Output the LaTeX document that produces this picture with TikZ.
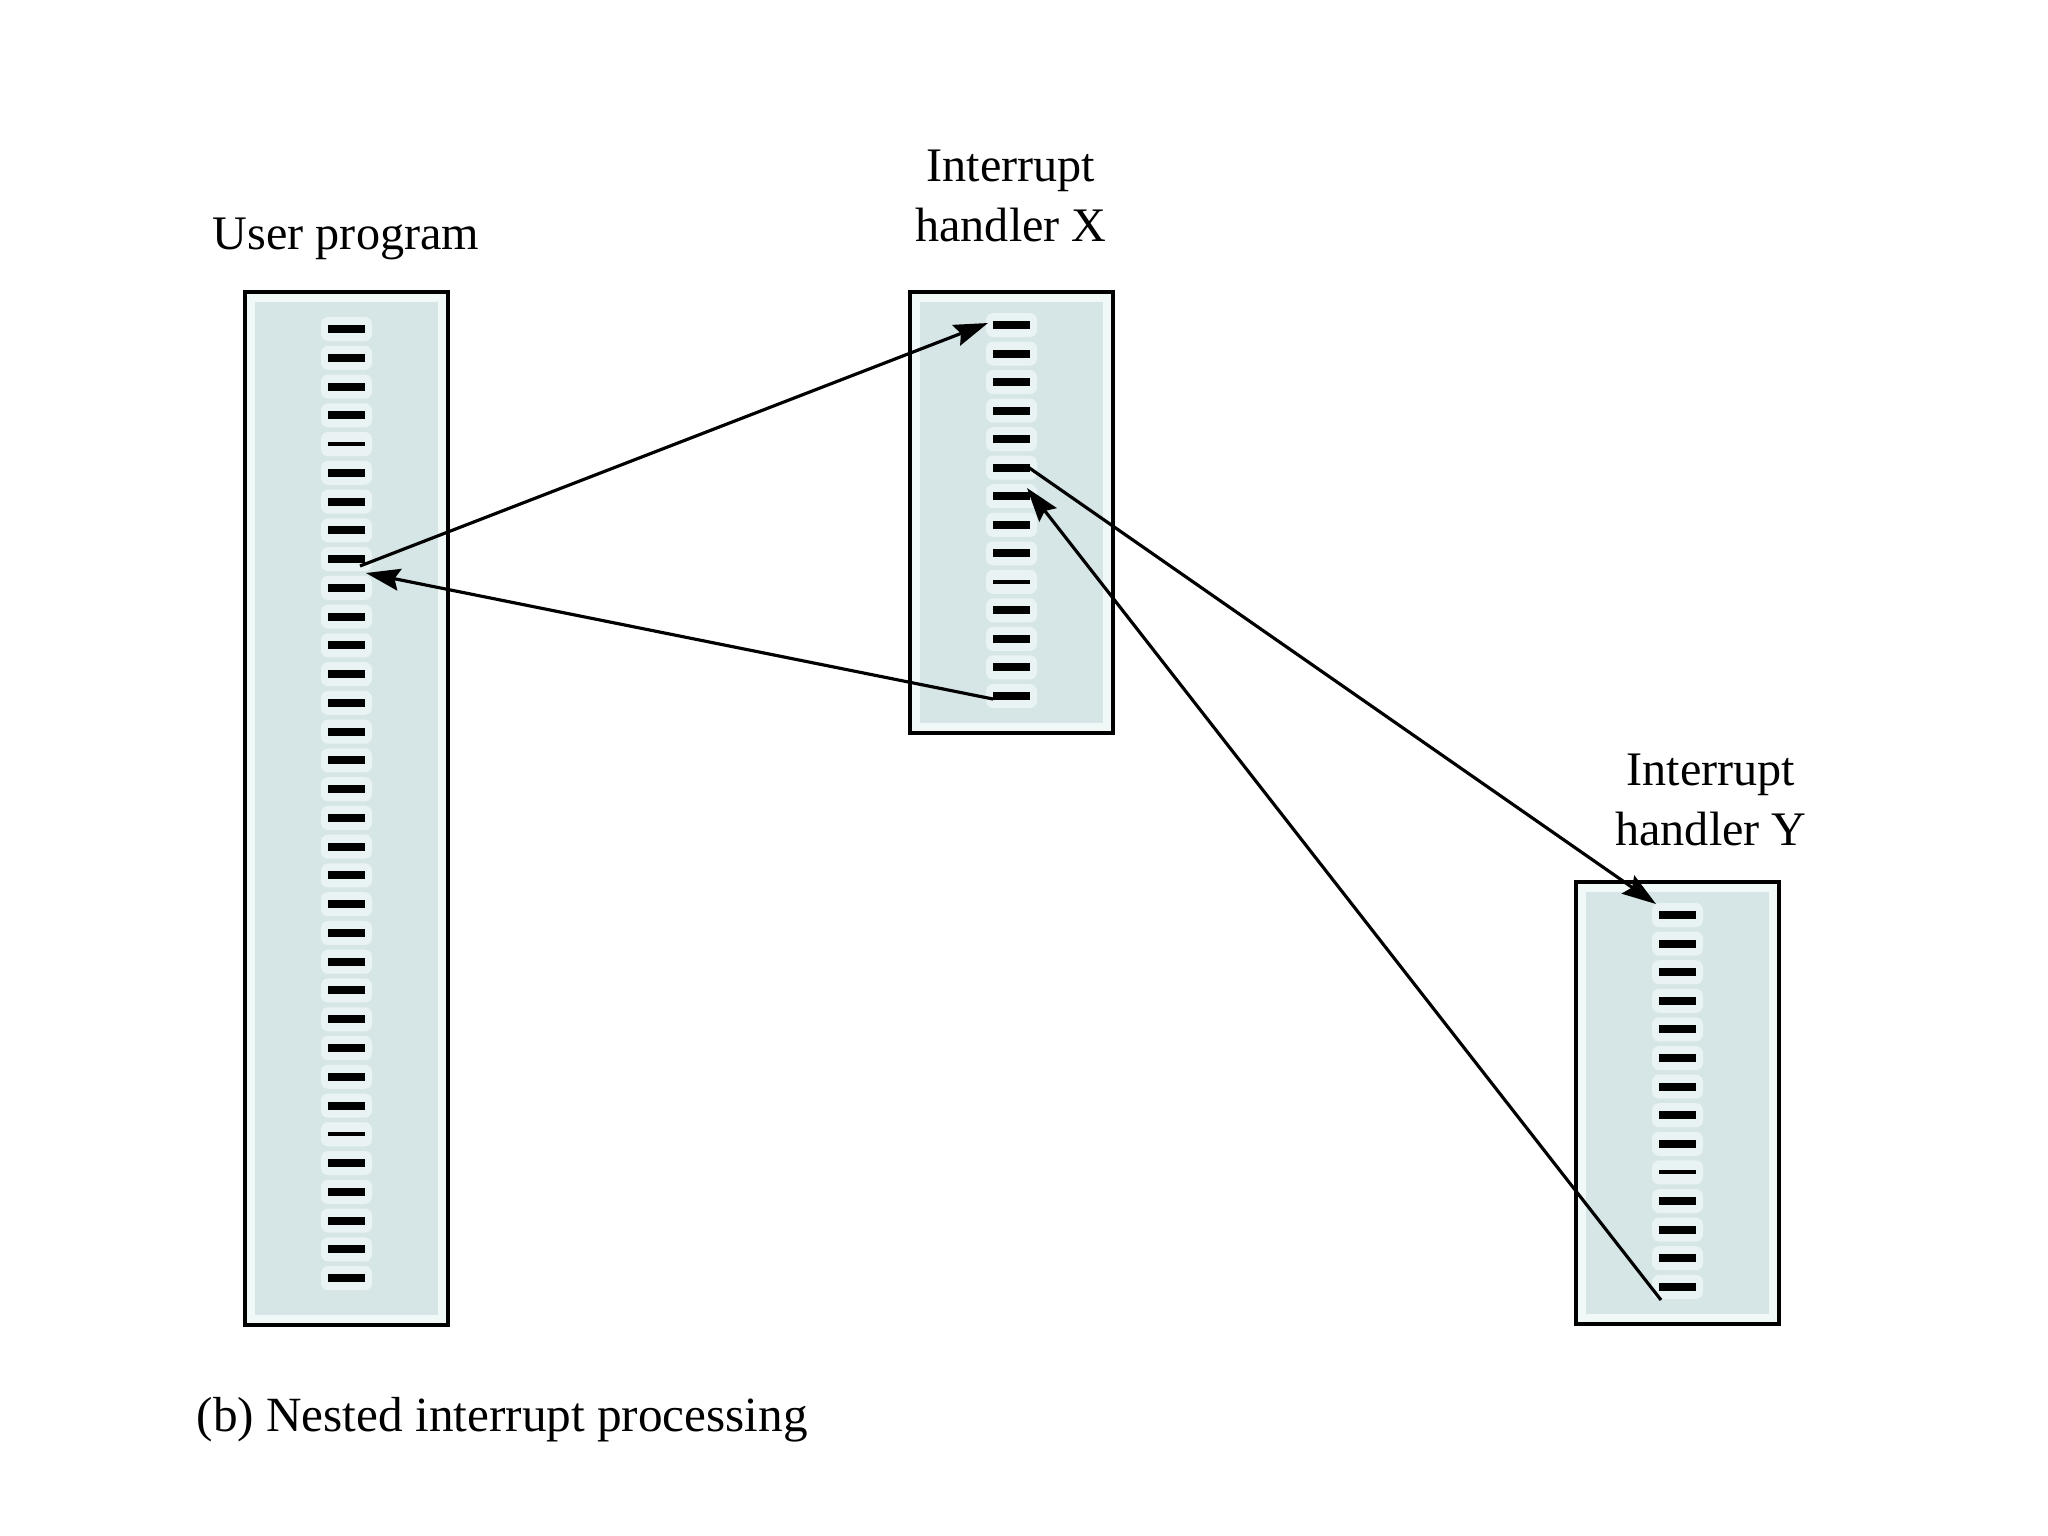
\documentclass[tikz,border=0pt]{standalone}
\usepackage{fontspec}
\setmainfont{Liberation Serif}
\usetikzlibrary{arrows.meta}
\definecolor{boxfill}{HTML}{D6E6E6}
\definecolor{boxpad}{HTML}{F0F8F8}
\definecolor{halo}{HTML}{E9F3F3}
\begin{document}
\begin{tikzpicture}[x=0.01cm,y=-0.01cm,
  lbl/.style={font=\fontsize{13.7}{17}\selectfont, align=center, inner sep=0pt},
  pbox/.style={draw=black, line width=1.1pt, fill=boxpad, minimum width=2.03cm, inner sep=0pt},
  flow/.style={line width=0.9pt, -{Stealth[length=0.34cm,width=0.22cm,inset=0.05cm]}},
  dashmark/.style={fill=black},
  halomark/.style={fill=halo, rounded corners=2pt},
]
\useasboundingbox (0,0) rectangle (2048,1536);
\fill[white] (0,0) rectangle (2048,1536);

% boxes
\node[pbox, minimum height=10.33cm] (u) at (346.5,808.5) {};
\node[pbox, minimum height=4.41cm] (x) at (1011.5,512.5) {};
\node[pbox, minimum height=4.42cm] (y) at (1677.5,1103) {};
\foreach \b in {u,x,y}{
  \fill[boxfill] ([shift={(12,12)}]\b.north west) rectangle ([shift={(-12,-12)}]\b.south east);
}

% dashes: user program
\foreach \i in {0,...,33}{
  \pgfmathsetmacro\yy{329+28.76*\i}
  \pgfmathsetmacro\hh{(\i==4||\i==28)?2:4}
  \fill[halomark] (321,\yy-12) rectangle (372,\yy+12);
  \fill[dashmark] (328,\yy-\hh) rectangle (365,\yy+\hh);
}
% dashes: handler X
\foreach \i in {0,...,13}{
  \pgfmathsetmacro\yy{325+28.54*\i}
  \pgfmathsetmacro\hh{(\i==9)?2:4}
  \fill[halomark] (986,\yy-12) rectangle (1037,\yy+12);
  \fill[dashmark] (993,\yy-\hh) rectangle (1030,\yy+\hh);
}
% dashes: handler Y
\foreach \i in {0,...,13}{
  \pgfmathsetmacro\yy{915+28.6*\i}
  \pgfmathsetmacro\hh{(\i==9)?2:4}
  \fill[halomark] (1652,\yy-12) rectangle (1703,\yy+12);
  \fill[dashmark] (1659,\yy-\hh) rectangle (1696,\yy+\hh);
}

% labels
\node[lbl] (ulbl) at (346,239) {User program};
\node[lbl] (xlbl) at (1011,196) {Interrupt\\handler X};
\node[lbl] (ylbl) at (1711,800) {Interrupt\\handler Y};
\node[lbl, anchor=west, font=\fontsize{14}{17}\selectfont] (cap) at (196,1420) {(b) Nested interrupt processing};

% connector end points
\coordinate (uOut) at (360,566);
\coordinate (xIn) at (988,323);
\coordinate (xBack) at (993,699);
\coordinate (uIn) at (366,573);
\coordinate (xOut) at (1028,467);
\coordinate (yIn) at (1656,904);
\coordinate (yBack) at (1661,1300);
\coordinate (xRet) at (1027,488);

\draw[flow] (uOut) -- (xIn);
\draw[flow] (xBack) -- (uIn);
\draw[flow] (xOut) -- (yIn);
\draw[flow] (yBack) -- (xRet);
\end{tikzpicture}
\end{document}
